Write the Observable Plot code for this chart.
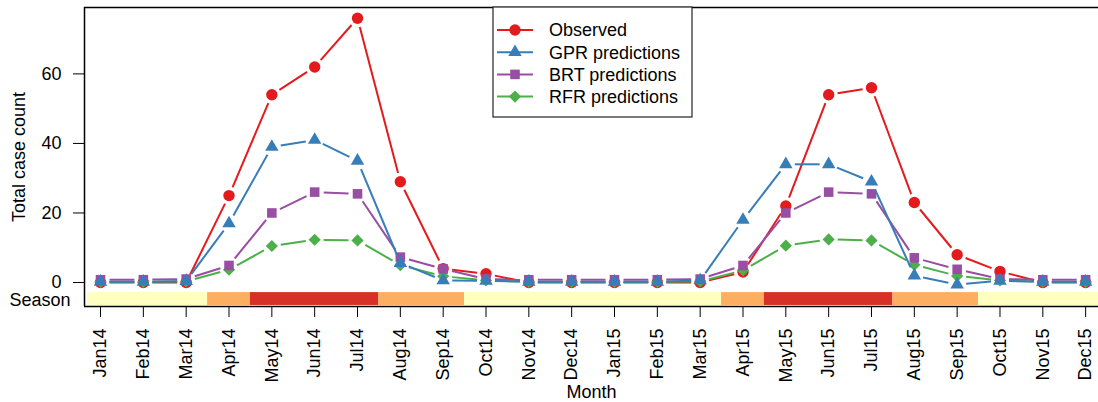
<!DOCTYPE html>
<html><head><meta charset="utf-8">
<script src="https://cdn.jsdelivr.net/npm/d3@7"></script>
<script src="https://cdn.jsdelivr.net/npm/@observablehq/plot@0.6"></script>
<style>
html,body{margin:0;padding:0;background:#fff;overflow:hidden}
#wrap{position:relative;width:1098px;height:402px;font-family:"Liberation Sans",Arial,Helvetica,sans-serif}
</style></head><body><div id="wrap"></div>
<script>
const months = ["Jan14","Feb14","Mar14","Apr14","May14","Jun14","Jul14","Aug14","Sep14","Oct14","Nov14","Dec14",
                "Jan15","Feb15","Mar15","Apr15","May15","Jun15","Jul15","Aug15","Sep15","Oct15","Nov15","Dec15"];
const observed = [0,0,0,25,54,62,76,29,4,2.5,0,0, 0,0,0,3,22,54,56,23,8,3.2,0,0];
const gpr      = [0.2,0.2,0.4,17,39,41,35,5.6,0.6,0.5,0.2,0.2, 0.2,0.2,0.6,18,34,34,29,2,-0.6,0.5,0.2,0.2];
const brt      = [0.8,0.8,1.0,4.9,20,26,25.5,7.3,3.9,1.0,0.8,0.8, 0.8,0.8,1.0,4.9,20,26,25.5,7.1,3.8,1.0,0.8,0.8];
const rfr      = [0.2,0.2,0.3,3.7,10.5,12.3,12.1,5.0,1.8,0.6,0.2,0.2, 0.2,0.2,0.3,3.5,10.6,12.4,12.1,5.1,1.9,0.6,0.2,0.2];
const seasons  = ["Low","Low","Low","Medium","High","High","High","Medium","Medium","Low","Low","Low",
                  "Low","Low","Low","Medium","High","High","High","Medium","Medium","Low","Low","Low"];
const seasonLevels = ["Low","Medium","High"];
const seasonColors = ["#ffffbf","#fdae61","#d73027"];
const seriesNames   = ["Observed","GPR predictions","BRT predictions","RFR predictions"];
const seriesColors  = ["#e41a1c","#377eb8","#984ea3","#4daf4a"];
const seriesSymbols = ["circle","triangle","square","diamond2"];
const seriesRadius  = [5.7, 5.0, 5.4, 5.5];
const yTicks = [0,20,40,60];

const seriesValues = [observed, gpr, brt, rfr];
const drawOrder = [0, 3, 2, 1];

const xDomain = [-0.374, 23.3];
const yDomain = [-6.9, 79.1];
const bandTop = -2.9, bandBottom = -6.6, bandStart = -0.3;

// season runs
const bands = [];
seasons.forEach((s, i) => {
  const last = bands[bands.length - 1];
  if (last && last.season === s) last.x2 = i + 0.5;
  else bands.push({season: s, x1: i === 0 ? bandStart : i - 0.5, x2: i + 0.5});
});
bands[bands.length - 1].x2 = 23.5;

const marks = [
  Plot.rect(bands, {x1: "x1", x2: "x2", y1: () => bandTop, y2: () => bandBottom, fill: "season", clip: true})
];
for (const k of drawOrder) {
  const vals = seriesValues[k];
  const pts = vals.map((v, i) => ({i, v}));
  const segs = d3.range(vals.length - 1).map(i => ({i, v: vals[i], i2: i + 1, v2: vals[i + 1]}));
  marks.push(Plot.arrow(segs, {x1: "i", y1: "v", x2: "i2", y2: "v2", stroke: seriesColors[k], strokeWidth: 2,
    headLength: 0, inset: 9, strokeLinecap: "butt"}));
  marks.push(Plot.dot(pts, {x: "i", y: "v", fill: seriesColors[k], symbol: seriesSymbols[k], r: seriesRadius[k], stroke: "none"}));
}
marks.push(Plot.ruleY([yDomain[0], yDomain[1]], {stroke: "#000", strokeWidth: 1.5}));
marks.push(Plot.ruleX([xDomain[0]], {stroke: "#000", strokeWidth: 1.5}));
marks.push(Plot.text(["Season"], {x: () => xDomain[0], y: () => (bandTop + bandBottom) / 2, text: d => d, dx: -14, dy: 1.5, textAnchor: "end", fill: "#000"}));

const chart = Plot.plot({
  width: 1098, height: 402,
  marginLeft: 84, marginRight: 0, marginTop: 7, marginBottom: 96,
  style: {fontFamily: "'Liberation Sans', Arial, Helvetica, sans-serif", fontSize: "18px", background: "#fff", color: "#000", overflow: "visible"},
  x: {type: "linear", domain: xDomain, ticks: d3.range(months.length), tickFormat: i => months[i], tickRotate: -90,
      tickSize: 11, tickPadding: 11, label: "Month", labelAnchor: "center", labelOffset: 91, labelArrow: "none"},
  y: {domain: yDomain, ticks: yTicks, tickSize: 11, tickPadding: 12, label: "Total case count",
      labelAnchor: "center", labelOffset: 72, labelArrow: "none"},
  color: {domain: seasonLevels, range: seasonColors},
  marks
});
const wrap = document.getElementById("wrap");
wrap.appendChild(chart);

// legend overlay
const leg = d3.create("svg").attr("width", 201).attr("height", 112)
  .style("position", "absolute").style("left", "492px").style("top", "6px")
  .style("font-family", "'Liberation Sans', Arial, Helvetica, sans-serif").style("font-size", "18px");
leg.append("rect").attr("x", 1).attr("y", 1).attr("width", 199).attr("height", 110)
  .attr("fill", "#fff").attr("stroke", "#222").attr("stroke-width", 1.2);
const symMap = {circle: d3.symbolCircle, triangle: d3.symbolTriangle, square: d3.symbolSquare, diamond2: d3.symbolDiamond2};
seriesNames.forEach((name, k) => {
  const cy = 24 + k * 22.2;
  const g = leg.append("g");
  g.append("line").attr("x1", 5).attr("x2", 41).attr("y1", cy).attr("y2", cy)
    .attr("stroke", seriesColors[k]).attr("stroke-width", 2);
  g.append("path").attr("transform", `translate(23,${cy})`)
    .attr("d", d3.symbol(symMap[seriesSymbols[k]], Math.PI * seriesRadius[k] ** 2)())
    .attr("fill", seriesColors[k]);
  g.append("text").attr("x", 57).attr("y", cy).attr("dy", "0.35em").attr("fill", "#000").text(name);
});
wrap.appendChild(leg.node());
</script>
</body></html>
